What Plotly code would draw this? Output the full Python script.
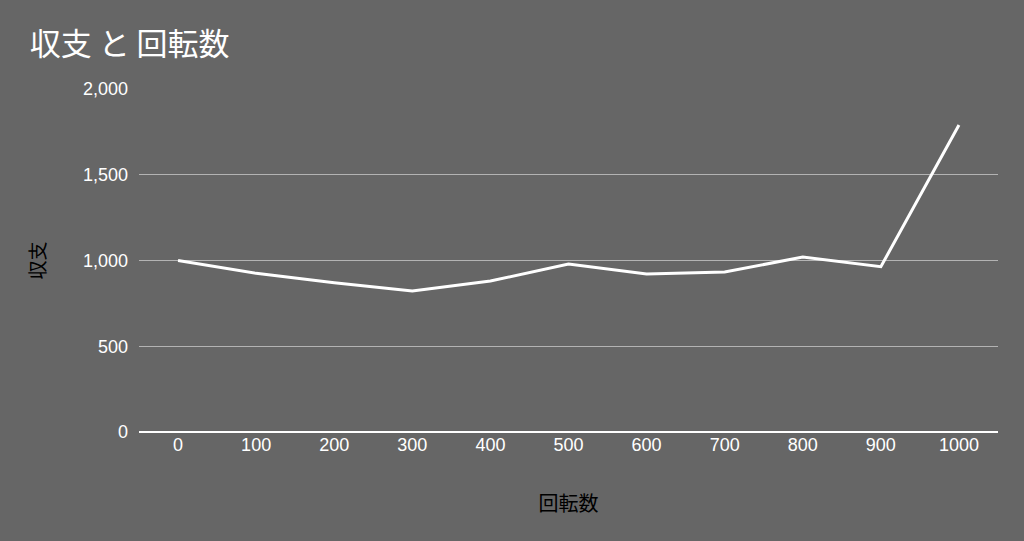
import plotly.graph_objects as go

categories = ["0", "100", "200", "300", "400", "500", "600", "700", "800", "900", "1000"]
income = [1000, 925, 870, 822, 880, 980, 922, 933, 1020, 964, 1790]
y_ticks = [0, 500, 1000, 1500, 2000]

FONT = "Liberation Sans, Arial, Noto Sans CJK JP, sans-serif"
CJK = "Noto Sans CJK JP, sans-serif"

fig = go.Figure()
fig.add_trace(go.Scatter(
    x=categories, y=income, mode="lines",
    line=dict(color="#ffffff", width=3),
    hoverinfo="x+y", showlegend=False,
))

fig.update_layout(
    width=1024, height=541,
    paper_bgcolor="#666666", plot_bgcolor="#666666",
    margin=dict(l=139, r=26, t=89, b=109),
    title=dict(text="収支 と 回転数", x=0.029, xanchor="left", y=0.918, yanchor="middle",
               font=dict(family=CJK, size=31, color="#ffffff")),
    xaxis=dict(
        type="category", range=[-0.5, 10.5],
        showgrid=False, showline=False, zeroline=False,
        ticks="", tickfont=dict(family=FONT, size=18, color="#ffffff"),
        title=dict(text="回転数", font=dict(family=CJK, size=20, color="#000000"), standoff=42),
    ),
    yaxis=dict(
        range=[0, 2000], tickvals=y_ticks, tickformat=",",
        showgrid=True, gridcolor="#b3b3b3", gridwidth=1,
        zeroline=True, zerolinecolor="#ffffff", zerolinewidth=2,
        showline=False, ticks="", ticklabelstandoff=10,
        tickfont=dict(family=FONT, size=18, color="#ffffff"),
        title=dict(text="収支", font=dict(family=CJK, size=19, color="#000000"), standoff=32),
    ),
)

fig.write_html("out.html", config={"displayModeBar": False},
               post_script="document.body.style.margin='0';document.body.style.overflow='hidden';")
